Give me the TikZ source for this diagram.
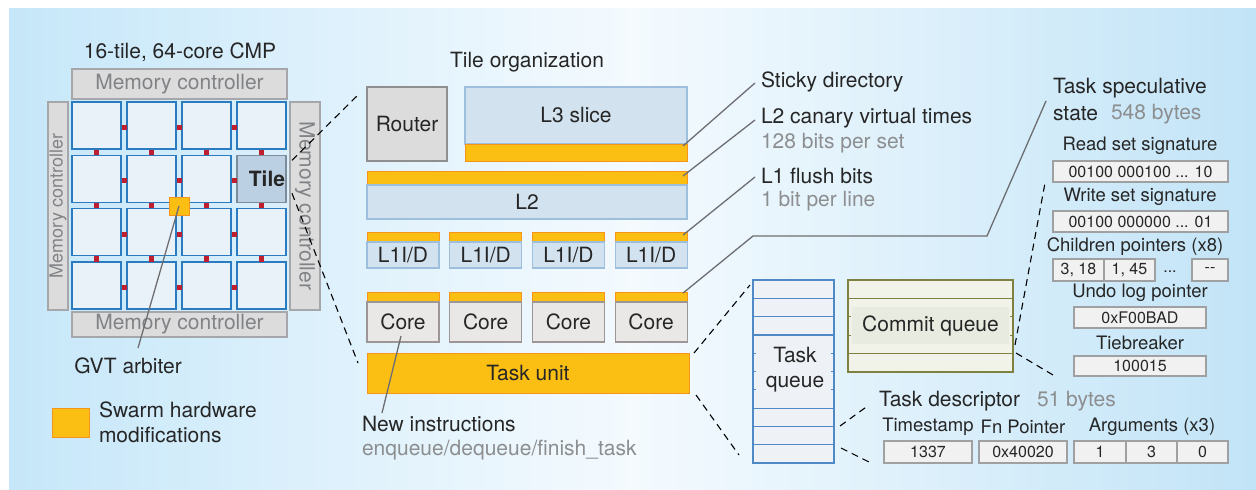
\documentclass[tikz,border=0pt]{standalone}
\usepackage{fontspec}
\setmainfont{TeX Gyre Heros}
\usetikzlibrary{calc}

\definecolor{bgside}{HTML}{C6E7F9}
\definecolor{bgmid}{HTML}{F4FAFE}
\definecolor{bgright}{HTML}{C2E4F7}
\definecolor{memfill}{HTML}{DCDCDD}
\definecolor{memline}{HTML}{A5A7AA}
\definecolor{memtext}{HTML}{808285}
\definecolor{tilefill}{HTML}{EAF2F9}
\definecolor{tileline}{HTML}{2B7BC0}
\definecolor{tilehlfill}{HTML}{BCD0E3}
\definecolor{tilehlline}{HTML}{7D8C9B}
\definecolor{linkred}{HTML}{BE1E2D}
\definecolor{swarm}{HTML}{FBBF14}
\definecolor{swarmline}{HTML}{F7941D}
\definecolor{cachefill}{HTML}{D2E2EE}
\definecolor{cacheline}{HTML}{9DBFDD}
\definecolor{routerline}{HTML}{8F8F90}
\definecolor{corefill}{HTML}{EAE8E7}
\definecolor{coreline}{HTML}{9C9696}
\definecolor{leader}{HTML}{6D6E71}
\definecolor{ink}{HTML}{262626}
\definecolor{note}{HTML}{8C8E90}
\definecolor{tqfill}{HTML}{EEF2F7}
\definecolor{tqline}{HTML}{4F89C6}
\definecolor{cqfill}{HTML}{F1F3E9}
\definecolor{cqtext}{HTML}{E8EBDF}
\definecolor{cqline}{HTML}{7F8140}
\definecolor{fieldfill}{HTML}{F1F1F2}
\definecolor{fieldline}{HTML}{9FA0A2}

\newcommand\fsmain{\fontsize{21}{25}\selectfont}
\newcommand\fsside{\fontsize{18}{22}\selectfont}
\newcommand\fslab{\fontsize{18.5}{22}\selectfont}
\newcommand\fsfield{\fontsize{16}{19}\selectfont}

\begin{document}
\begin{tikzpicture}[x=1pt,y=-1pt,
  every node/.style={inner sep=0pt, outer sep=0pt, text=ink, font=\fsmain},
  blk/.style={rectangle, anchor=north west, line width=1.2pt},
  mem/.style={blk, fill=memfill, draw=memline, text=memtext},
  tile/.style={blk, fill=tilefill, draw=tileline, line width=1.4pt,
    minimum width=49pt, minimum height=47pt},
  hltile/.style={tile, fill=tilehlfill, draw=tilehlline},
  swarmbox/.style={blk, fill=swarm, draw=swarmline, line width=1pt},
  cachebox/.style={blk, fill=cachefill, draw=cacheline},
  corebox/.style={blk, fill=corefill, draw=coreline},
  field/.style={blk, fill=fieldfill, draw=fieldline, line width=1.1pt,
    font=\fsfield, minimum height=21pt},
  flabel/.style={font=\fslab},
  lbl/.style={anchor=west},
  notetext/.style={anchor=west, text=note},
  leaderline/.style={draw=leader, line width=1.3pt},
  zoomline/.style={draw=black, line width=1.1pt, dash pattern=on 7pt off 5pt},
]
\useasboundingbox (0,0) rectangle (1256,490);

% backdrop
\shade[left color=bgside, right color=bgright, middle color=bgmid]
  (9,8) rectangle (1256,490);

% ---------------- 16-tile CMP ----------------
\node (cmptitle) at (180,52) {16-tile, 64-core CMP};
\node[mem, minimum width=215pt, minimum height=30pt] (mctop) at (72,69) {Memory controller};
\node[mem, minimum width=215pt, minimum height=25pt] (mcbot) at (72,312) {Memory controller};
\node[mem, minimum width=20pt, minimum height=208pt] (mcleft) at (48,102) {};
\node[mem, minimum width=30pt, minimum height=208pt] (mcright) at (290,102) {};
\node[rotate=90, text=memtext, font=\fsside] (mclefttext) at (mcleft.center) {Memory controller};
\node[rotate=-90, text=memtext] (mcrighttext) at (mcright.center) {Memory controller};

\foreach \r in {0,...,3}{
  \foreach \c in {0,...,3}{
    \ifnum\r\c=13\else
      \node[tile] (t\r\c) at ({72+55*\c},{102+53.33*\r}) {};
    \fi
  }
}
\node[hltile] (t13) at (237,155.33) {\hspace{11pt}\textbf{Tile}};

% mesh links
\foreach \r in {0,...,3}{
  \foreach \c in {0,1,2}{
    \fill[linkred] ({121.5+55*\c},{125+53.33*\r}) rectangle ++(5,5);
  }
}
\foreach \r in {0,1,2}{
  \foreach \c in {0,...,3}{
    \fill[linkred] ({94+55*\c},{149.5+53.33*\r}) rectangle ++(5,5.5);
  }
}

\node[swarmbox, anchor=center, minimum width=20pt, minimum height=18pt] (gvt) at (179,206) {};
\node (gvtlab) at (128,366) {GVT arbiter};
\coordinate (gvtend) at ($(gvtlab.north)+(10,-10)$);
\draw[leaderline] (gvt.center) -- (gvtend);

% legend
\node[swarmbox, minimum width=37pt, minimum height=29pt] (legendbox) at (52,408) {};
\node[anchor=west, align=left] (legendtext) at (99,422.5) {Swarm hardware\\modifications};

% ---------------- tile organization ----------------
\node (orgtitle) at (527,62) {Tile organization};
\node[blk, fill=memfill, draw=routerline, minimum width=80pt, minimum height=74pt] (router) at (367,87) {Router};
\node[cachebox, minimum width=222pt, minimum height=57pt] (l3) at (465,87) {L3 slice};
\node[swarmbox, minimum width=222pt, minimum height=17pt] (l3sticky) at (465,144) {};
\node[swarmbox, minimum width=320pt, minimum height=14pt] (l2canary) at (367,171) {};
\node[cachebox, minimum width=320pt, minimum height=34pt] (l2) at (367,185) {L2};
\foreach \i in {0,...,3}{
  \node[swarmbox, minimum width=72pt, minimum height=10pt] (fl\i) at ({367+82.7*\i},232) {};
  \node[cachebox, minimum width=72pt, minimum height=26pt] (l1\i) at ({367+82.7*\i},242) {L1I/D};
  \node[swarmbox, minimum width=72pt, minimum height=10pt] (cs\i) at ({367+82.7*\i},292) {};
  \node[corebox, minimum width=72pt, minimum height=40pt] (core\i) at ({367+82.7*\i},302) {Core};
}
\node[swarmbox, minimum width=322pt, minimum height=40pt] (taskunit) at (367,353) {Task unit};

% zoom from the tile to its organization
\coordinate (zu1) at ($(t13.east)+(6,-18.5)$);
\coordinate (zl1) at ($(t13.east)+(6,14.5)$);
\draw[zoomline] (zu1) -- ($(router.north west)+(-8,7)$);
\draw[zoomline] (zl1) -- ($(taskunit.south west)+(-9,-30)$);

% new instructions
\node[lbl] (newinstr) at (362,424) {New instructions};
\node[notetext] (newinstrops) at (362,450) {enqueue/dequeue/finish\_task};
\draw[leaderline] ($(core0.south)+(-2,-6)$) -- ($(newinstr.west)+(20,-11)$);

% callouts on the right of the tile
\node[lbl] (stickylab) at (761,82) {Sticky directory};
\node[lbl] (canarylab) at (761,118) {L2 canary virtual times};
\node[notetext] (canarynote) at (761,143) {128 bits per set};
\node[lbl] (flushlab) at (761,176) {L1 flush bits};
\node[notetext] (flushnote) at (761,201) {1 bit per line};
\draw[leaderline] ($(l3sticky.north east)+(-4,2)$) -- ($(stickylab.west)+(-6,1)$);
\draw[leaderline] ($(l2canary.north east)+(-4,5)$) -- ($(canarylab.west)+(-6,2)$);
\draw[leaderline] ($(fl3.north east)+(-4,3)$) -- ($(flushlab.west)+(-6,1)$);

% ---------------- task speculative state ----------------
\node[lbl] (speclab) at (1053,88) {Task speculative};
\node[lbl] (speclab2) at (1053,114) {state};
\node[notetext] (specnote) at (1111,114) {548 bytes};
\coordinate (specbend1) at (753,236);
\coordinate (specbend2) at (987,236);
\draw[leaderline] ($(cs3.north east)+(-4,1)$) -- (specbend1) -- (specbend2)
  -- ($(speclab2.west)+(-7,-13)$);

\node[flabel] (rslab) at (1140,146) {Read set signature};
\node[field, minimum width=175pt] (rs) at (1053,161) {00100 000100 ... 10};
\node[flabel] (wslab) at (1140,197) {Write set signature};
\node[field, minimum width=175pt] (ws) at (1053,211) {00100 000000 ... 01};
\node[flabel] (chlab) at (1135,247) {Children pointers (x8)};
\node[field, minimum width=51pt, minimum height=22pt] (ch1) at (1053,259) {3, 18};
\node[field, minimum width=51pt, minimum height=22pt] (ch2) at (1104,259) {1, 45};
\node[font=\fsfield] (chdots) at (1170,272) {...};
\node[field, minimum width=36pt, minimum height=22pt] (ch8) at (1192,259) {-{}-};
\node[flabel] (undolab) at (1140,293) {Undo log pointer};
\node[field, minimum width=132pt] (undo) at (1074,307) {0xF00BAD};
\node[flabel] (tblab) at (1140,343) {Tiebreaker};
\node[field, minimum width=132pt, minimum height=20pt] (tb) at (1074,356) {100015};

% ---------------- task queue ----------------
\node[blk, fill=tqfill, draw=tqline, minimum width=81pt, minimum height=183pt] (tq) at (753,280) {};
\foreach \k in {1,...,9}{
  \draw[tqline, line width=1.2pt] (753,{280+18.3*\k}) -- (834,{280+18.3*\k});
}
\fill[tqfill] (756,336.5) rectangle (831,406.5);
\node[align=center] (tqtext) at (795,370) {Task\\queue};

% ---------------- commit queue ----------------
\node[blk, fill=cqfill, draw=cqline, minimum width=165pt, minimum height=92pt] (cq) at (848,280) {};
\foreach \k in {1,...,4}{
  \draw[cqline, line width=1.2pt] (848,{280+18.4*\k}) -- (1013,{280+18.4*\k});
}
\fill[cqfill] (851,300) rectangle (1010,352.4);
\node[fill=cqtext, minimum width=157pt, minimum height=37pt] (cqtextbox) at (930.5,325.5) {Commit queue};

% zoom from task unit to task queue
\draw[zoomline] ($(taskunit.north east)+(5,0)$) -- ($(tq.north west)+(-3,5)$);
\draw[zoomline] ($(taskunit.south east)+(7,2)$) -- ($(tq.south west)+(-14,-8)$);

% zoom from commit queue to speculative state
\draw[zoomline] ($(cq.north east)+(2,65)$) -- ($(rs.south west)+(-8,1)$);
\draw[zoomline] ($(cq.north east)+(3,73)$) -- ($(tb.south west)+(-21,-1)$);

% ---------------- task descriptor ----------------
\node[lbl] (tdlab) at (879,401) {Task descriptor};
\node[notetext] (tdnote) at (1037,401) {51 bytes};
\node[flabel] (tslab) at (928,427) {Timestamp};
\node[flabel] (fnlab) at (1023,427) {Fn Pointer};
\node[flabel] (arglab) at (1152,427) {Arguments (x3)};
\node[field, minimum width=88pt, minimum height=22pt] (ts) at (884,441) {1337};
\node[field, minimum width=88pt, minimum height=22pt] (fn) at (979,441) {0x40020};
\node[field, minimum width=52pt, minimum height=22pt] (arg1) at (1074,441) {1};
\node[field, minimum width=51pt, minimum height=22pt] (arg2) at (1126,441) {3};
\node[field, minimum width=51pt, minimum height=22pt] (arg3) at (1177,441) {0};

\draw[zoomline] ($(tq.north east)+(6,146)$) -- ($(tdlab.west)+(-10,4)$);
\draw[zoomline] ($(tq.north east)+(7,168)$) -- ($(ts.south west)+(-13,0)$);
\end{tikzpicture}
\end{document}
